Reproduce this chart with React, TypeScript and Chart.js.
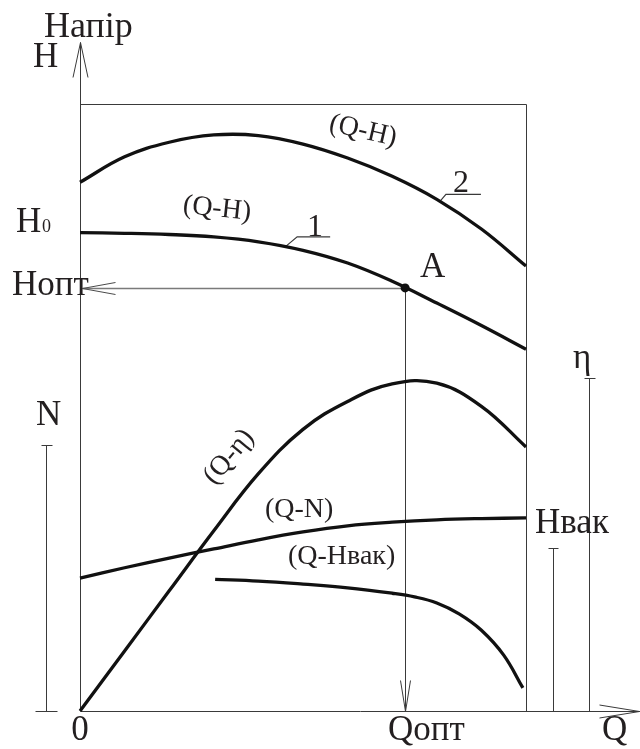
import React, { useEffect, useRef } from "react";
import { Chart, registerables } from "chart.js";

Chart.register(...registerables);

// Relative units: Q runs 0..100 across the frame, the ordinate 0..100 up to the frame top.
const qGrid = [0, 10, 20, 30, 40, 50, 60, 70, 80, 90, 100];

// (Q-H), curve 1
const h1 = [78.8, 78.7, 78.5, 78.1, 77.3, 75.9, 73.8, 70.8, 67.2, 63.5, 59.6];
// (Q-H), curve 2
const h2 = [87.1, 91.3, 93.7, 94.9, 94.8, 93.4, 91.1, 88.1, 84.3, 79.4, 73.3];
// (Q-η)
const eta = [0, 9.9, 19.8, 29.7, 39.1, 46.4, 51.0, 53.9, 54.0, 50.2, 43.5];
// (Q-N)
const power = [21.9, 23.6, 25.2, 26.7, 28.2, 29.5, 30.5, 31.1, 31.5, 31.7, 31.8];
// (Q-Hвак)
const qVac = [30.3, 40, 50, 60, 70, 75, 80, 85, 90, 95, 99.3];
const hVac = [21.7, 21.4, 20.9, 20.3, 19.4, 18.8, 17.8, 16.0, 13.3, 9.2, 3.8];

// Operating point A
const Q_OPT = 72.9;
const H_OPT = 69.7;

// Extents of the axes and the auxiliary scales (same units)
const Y_AXIS_TOP = 110.2;
const X_AXIS_END = 125.6;
const N_AXIS = { q: -7.6, top: 43.8 };
const VAC_AXIS = { q: 106.1, top: 26.9 };
const ETA_AXIS = { q: 114.1, top: 54.9 };

const SERIF = '"Liberation Serif", "Times New Roman", serif';
const INK = "#231f20";

const pts = (xs: number[], ys: number[]) => xs.map((x, i) => ({ x, y: ys[i] }));

const curve = (data: { x: number; y: number }[]) => ({
  data,
  showLine: true,
  borderColor: "#111",
  borderWidth: 3.3,
  pointRadius: 0,
  tension: 0.4,
  clip: false as const,
});

const framePlugin = {
  id: "pumpFrame",
  beforeDatasetsDraw(chart: any) {
    const ctx: CanvasRenderingContext2D = chart.ctx;
    const xs = chart.scales.x;
    const ys = chart.scales.y;
    const X = (v: number) => Math.round(xs.getPixelForValue(v)) + 0.5;
    const Y = (v: number) => Math.round(ys.getPixelForValue(v)) + 0.5;

    const line = (x1: number, y1: number, x2: number, y2: number, color = "#3a3a3a", w = 1) => {
      ctx.beginPath();
      ctx.strokeStyle = color;
      ctx.lineWidth = w;
      ctx.moveTo(x1, y1);
      ctx.lineTo(x2, y2);
      ctx.stroke();
    };
    const arrow = (tx: number, ty: number, dx: number, dy: number, len: number, half: number, color = "#3a3a3a") => {
      const bx = tx - dx * len;
      const by = ty - dy * len;
      const nx = -dy;
      const ny = dx;
      line(tx, ty, bx + nx * half, by + ny * half, color, 1);
      line(tx, ty, bx - nx * half, by - ny * half, color, 1);
    };

    ctx.save();
    ctx.lineCap = "butt";

    // main axes
    line(X(0), Y(0), X(0), Y(Y_AXIS_TOP));
    arrow(X(0), Y(Y_AXIS_TOP), 0, -1, 35, 7.5);
    line(X(0), Y(0), X(X_AXIS_END), Y(0));
    arrow(X(X_AXIS_END) - 1, Y(0), 1, 0, 40, 6.5);

    // frame
    line(X(0), Y(100), X(100), Y(100));
    line(X(100), Y(100), X(100), Y(0));

    // auxiliary scales N, Hвак, η
    line(X(N_AXIS.q), Y(0), X(N_AXIS.q), Y(N_AXIS.top));
    line(X(N_AXIS.q) - 5, Y(N_AXIS.top), X(N_AXIS.q) + 6, Y(N_AXIS.top));
    line(X(N_AXIS.q) - 11, Y(0), X(N_AXIS.q) + 11, Y(0));
    line(X(VAC_AXIS.q), Y(0), X(VAC_AXIS.q), Y(VAC_AXIS.top));
    line(X(VAC_AXIS.q) - 5, Y(VAC_AXIS.top), X(VAC_AXIS.q) + 5, Y(VAC_AXIS.top));
    line(X(ETA_AXIS.q), Y(0), X(ETA_AXIS.q), Y(ETA_AXIS.top));
    line(X(ETA_AXIS.q) - 5, Y(ETA_AXIS.top), X(ETA_AXIS.q) + 6, Y(ETA_AXIS.top));

    // projections of the operating point
    line(X(Q_OPT), Y(H_OPT), X(0) + 2, Y(H_OPT), "#7a7a7a", 1.5);
    arrow(X(0) + 2, Y(H_OPT), -1, 0, 33, 6, "#4a4a4a");
    line(X(Q_OPT), Y(H_OPT), X(Q_OPT), Y(0), "#3a3a3a", 1);
    arrow(X(Q_OPT), Y(0), 0, 1, 31, 5);

    // leader lines of curve numbers
    const lead = (q: number, h: number[], qs: number[], dx: number, dy: number, run: number) => {
      const i = qs.findIndex((v) => v >= q);
      const t = (q - qs[i - 1]) / (qs[i] - qs[i - 1]);
      const hv = h[i - 1] + t * (h[i] - h[i - 1]);
      const sx = xs.getPixelForValue(q);
      const sy = ys.getPixelForValue(hv);
      ctx.beginPath();
      ctx.strokeStyle = "#3a3a3a";
      ctx.lineWidth = 1.2;
      ctx.moveTo(sx, sy);
      ctx.lineTo(sx + dx, sy - dy);
      ctx.lineTo(sx + dx + run, sy - dy);
      ctx.stroke();
    };
    lead(46.0, h1, qGrid, 12, 10, 33);
    lead(80.7, h2, qGrid, 6, 7, 35);

    ctx.restore();
  },
  afterDatasetsDraw(chart: any) {
    const ctx: CanvasRenderingContext2D = chart.ctx;
    ctx.save();
    ctx.fillStyle = INK;
    const t = (s: string, x: number, y: number, size: number, align: CanvasTextAlign = "left") => {
      ctx.font = `${size}px ${SERIF}`;
      ctx.textAlign = align;
      ctx.textBaseline = "alphabetic";
      ctx.fillText(s, x, y);
    };
    const r = (s: string, x: number, y: number, deg: number, size: number) => {
      ctx.save();
      ctx.translate(x, y);
      ctx.rotate((deg * Math.PI) / 180);
      ctx.font = `${size}px ${SERIF}`;
      ctx.textAlign = "center";
      ctx.textBaseline = "middle";
      ctx.fillText(s, 0, 0);
      ctx.restore();
    };

    t("Напір", 44, 37, 36);
    t("H", 33, 67, 35);
    t("H", 16, 232, 35);
    t("0", 42, 232, 18);
    t("Hопт", 12, 295, 35);
    t("A", 420, 277, 35);
    t("N", 36, 425, 35);
    t("η", 573, 368, 35);
    t("Hвак", 535, 533, 35);
    t("0", 80, 740, 35, "center");
    t("Qопт", 388, 740, 35);
    t("Q", 602, 740, 35);
    t("1", 307, 236, 32);
    t("2", 453, 192, 32);

    r("(Q-H)", 217, 209, 6, 28);
    r("(Q-H)", 363, 131, 13, 28);
    r("(Q-η)", 229, 457, -50, 28);
    t("(Q-N)", 265, 517, 28);
    t("(Q-Hвак)", 288, 564, 28);

    ctx.restore();
  },
};

export default function App() {
  const ref = useRef<HTMLCanvasElement>(null);

  useEffect(() => {
    const chart = new Chart(ref.current!, {
      type: "scatter",
      data: {
        datasets: [
          curve(pts(qGrid, h1)),
          curve(pts(qGrid, h2)),
          curve(pts(qGrid, eta)),
          curve(pts(qGrid, power)),
          curve(pts(qVac, hVac)),
          {
            data: [{ x: Q_OPT, y: H_OPT }],
            showLine: false,
            pointRadius: 4.5,
            pointBackgroundColor: "#111",
            pointBorderWidth: 0,
            clip: false,
          } as any,
        ],
      },
      options: {
        animation: false,
        responsive: false,
        devicePixelRatio: 1,
        layout: { padding: { left: 80, right: 114, top: 104, bottom: 38 } },
        plugins: { legend: { display: false }, tooltip: { enabled: false }, title: { display: false } },
        events: [],
        scales: {
          x: { type: "linear", min: 0, max: 100, display: false },
          y: { type: "linear", min: 0, max: 100, display: false },
        },
      },
      plugins: [framePlugin],
    } as any);
    return () => chart.destroy();
  }, []);

  return (
    <div style={{ position: "absolute", left: 0, top: 0, width: 640, height: 749, background: "#fff" }}>
      <canvas ref={ref} width={640} height={749} style={{ display: "block", width: 640, height: 749 }} />
    </div>
  );
}
